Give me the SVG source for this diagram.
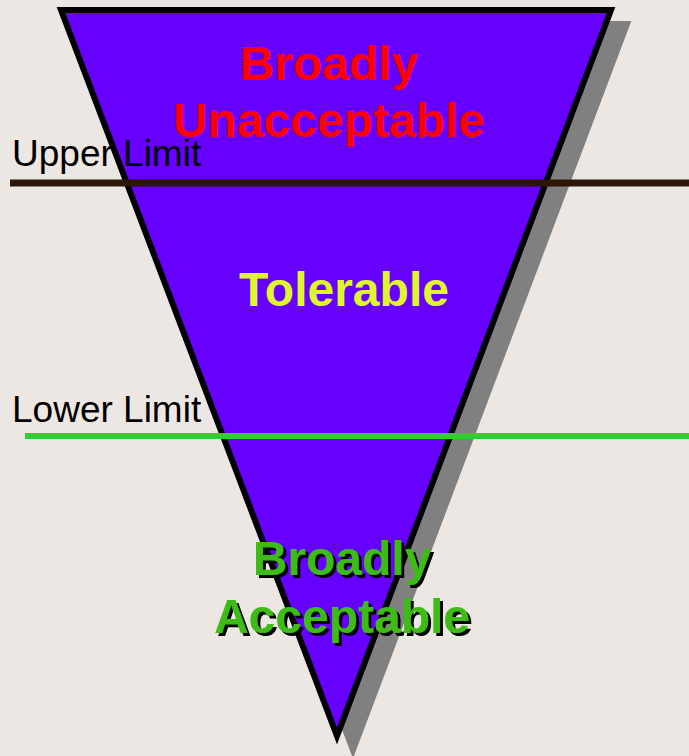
<svg xmlns="http://www.w3.org/2000/svg" width="689" height="756" viewBox="0 0 689 756">
<defs>
<filter id="shadow" x="-10%" y="-20%" width="120%" height="140%">
<feDropShadow dx="3" dy="3" stdDeviation="0" flood-color="#000" flood-opacity="1"/>
</filter>
</defs>
<style>
.big{font-family:"Liberation Sans",Arial,sans-serif;font-weight:bold;font-size:48px;text-anchor:middle}
.lbl{font-family:"Liberation Sans",Arial,sans-serif;font-size:37px;fill:#000}
</style>
<rect width="689" height="756" fill="#ece7e2"/>
<g id="triangle">
<polygon points="61,10 611,10 337,736" fill="#808080" stroke="#808080" stroke-width="6" stroke-linejoin="miter" transform="translate(16,14)"/>
<polygon points="61,10 611,10 337,736" fill="#6600ff" stroke="#000" stroke-width="6" stroke-linejoin="miter"/>
</g>
<g id="connectors">
<line x1="10" y1="183" x2="689" y2="183" stroke="#2b1607" stroke-width="7"/>
<line x1="25" y1="436" x2="689" y2="436" stroke="#33cc33" stroke-width="6"/>
</g>
<g id="zone-unacceptable">
<text class="big" x="329" y="80" fill="#ff0000">Broadly</text>
<text class="big" x="329" y="137" fill="#ff0000">Unacceptable</text>
</g>
<g id="upper-limit">
<text class="lbl" x="12" y="166">Upper Limit</text>
</g>
<g id="zone-tolerable">
<text class="big" x="344" y="306" fill="#e0f52c">Tolerable</text>
</g>
<g id="lower-limit">
<text class="lbl" x="12" y="422">Lower Limit</text>
</g>
<g id="zone-acceptable" filter="url(#shadow)">
<text class="big" x="342" y="575" fill="#3cbc14">Broadly</text>
<text class="big" x="342" y="633" fill="#3cbc14">Acceptable</text>
</g>
</svg>
